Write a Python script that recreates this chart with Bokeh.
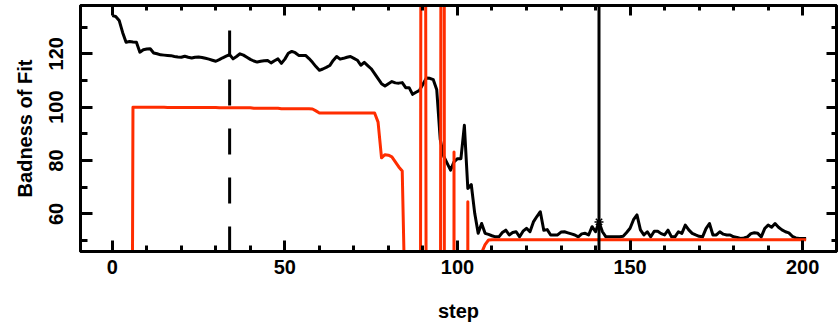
import math
from bokeh.plotting import figure
from bokeh.models import Range1d, LinearAxis, SingleIntervalTicker, Span
from bokeh.embed import file_html
from bokeh.resources import INLINE

# ---------------- data ----------------
steps = list(range(202))

badness = [
    # 0-9
    134.3, 134.0, 132.5, 128.0, 124.3, 124.6, 124.4, 124.3, 120.6, 121.5,
    # 10-19
    121.8, 121.9, 120.3, 120.0, 119.6, 119.5, 119.4, 119.3, 119.0, 118.8,
    # 20-29
    118.7, 119.1, 118.7, 118.4, 118.7, 118.8, 118.6, 118.3, 118.0, 117.6,
    # 30-39
    117.2, 117.8, 118.5, 119.1, 119.7, 118.1, 119.0, 120.0, 119.5, 118.7,
    # 40-49
    117.9, 117.3, 116.9, 117.2, 117.4, 117.5, 116.6, 117.4, 118.1, 116.4,
    # 50-59
    118.0, 120.2, 120.9, 120.4, 119.4, 119.4, 119.4, 118.2, 116.8, 115.2,
    # 60-69
    113.8, 114.3, 114.9, 115.6, 117.5, 119.0, 118.0, 118.3, 118.7, 119.0,
    # 70-79
    118.3, 117.6, 115.7, 116.8, 115.6, 114.4, 112.6, 110.7, 108.8, 107.9,
    # 80-89
    108.8, 109.6, 109.1, 109.0, 109.2, 107.3, 107.3, 104.8, 105.6, 106.3,
    # 90-99
    108.6, 110.9, 110.8, 110.3, 106.5, 88.0, 81.6, 79.0, 76.4, 79.5,
    # 100-109
    80.7, 80.7, 93.2, 69.5, 71.0, 60.2, 52.7, 56.4, 52.7, 52.3,
    # 110-119
    51.8, 51.4, 51.4, 53.0, 53.9, 52.1, 53.0, 53.3, 51.4, 53.5,
    # 120-129
    54.6, 53.3, 57.0, 59.0, 60.8, 53.9, 54.1, 52.1, 52.1, 52.1,
    # 130-139
    53.2, 53.3, 52.9, 52.5, 52.1, 51.4, 52.5, 52.7, 52.1, 55.2,
    # 140-149
    53.3, 57.0, 53.3, 51.4, 51.4, 51.4, 51.4, 51.4, 51.6, 53.0,
    # 150-159
    54.6, 57.8, 59.6, 54.0, 52.1, 53.3, 51.4, 53.5, 53.5, 52.6,
    # 160-169
    52.1, 53.9, 51.4, 51.4, 53.3, 52.7, 55.8, 54.0, 52.7, 52.1,
    # 170-179
    51.6, 51.4, 54.5, 56.4, 52.1, 52.1, 53.3, 52.4, 52.1, 52.1,
    # 180-189
    51.4, 51.2, 50.8, 51.0, 51.4, 52.6, 52.9, 52.7, 51.4, 54.5,
    # 190-199
    55.8, 55.0, 56.4, 55.0, 54.0, 53.3, 52.9, 51.6, 51.0, 50.8,
    # 200-201
    50.8, 50.8,
]

second_series = [
    # 0-9
    -300, -300, -300, -300, -300, -300, 100.0, 100.0, 100.0, 100.0,
    # 10-19
    100.0, 100.0, 100.0, 100.0, 100.0, 100.0, 99.9, 99.9, 99.9, 99.9,
    # 20-29
    99.9, 99.9, 99.9, 99.9, 99.9, 99.9, 99.9, 99.9, 99.9, 99.9,
    # 30-39
    99.9, 99.8, 99.8, 99.8, 99.8, 99.8, 99.8, 99.8, 99.8, 99.8,
    # 40-49
    99.8, 99.6, 99.6, 99.6, 99.6, 99.6, 99.6, 99.6, 99.6, 99.4,
    # 50-59
    99.4, 99.4, 99.4, 99.4, 99.4, 99.4, 99.4, 99.4, 99.3, 98.6,
    # 60-69
    97.8, 97.8, 97.8, 97.8, 97.8, 97.8, 97.8, 97.8, 97.8, 97.8,
    # 70-79
    97.8, 97.8, 97.8, 97.8, 97.8, 97.8, 97.8, 94.4, 81.0, 82.2,
    # 80-89
    82.0, 81.4, 79.5, 77.6, 76.1, 15.0, -300, -300, -300, -300,
    # 90-99
    850, -43, -300, -300, -300, -60, 1000, -3770, -3000, 83.2,
    # 100-109
    -3000, -3000, -3000, 64.5, -3000, -3000, -3000, 45.5, 48.5, 50.2,
    # 110-119
    50.3, 50.3, 50.3, 50.3, 50.3, 50.3, 50.3, 50.3, 50.3, 50.3,
    # 120-129
    50.3, 50.3, 50.3, 50.3, 50.3, 50.3, 50.3, 50.3, 50.3, 50.3,
    # 130-139
    50.3, 50.3, 50.3, 50.3, 50.3, 50.3, 50.3, 50.3, 50.3, 50.3,
    # 140-149
    50.3, 50.3, 50.3, 50.3, 50.3, 50.3, 50.3, 50.3, 50.3, 50.3,
    # 150-159
    50.3, 50.3, 50.3, 50.3, 50.3, 50.3, 50.3, 50.3, 50.3, 50.3,
    # 160-169
    50.3, 50.3, 50.3, 50.3, 50.3, 50.3, 50.3, 50.3, 50.3, 50.3,
    # 170-179
    50.3, 50.3, 50.3, 50.3, 50.3, 50.3, 50.3, 50.3, 50.3, 50.3,
    # 180-189
    50.3, 50.3, 50.3, 50.3, 50.3, 50.3, 50.3, 50.3, 50.3, 50.3,
    # 190-199
    50.3, 50.3, 50.3, 50.3, 50.3, 50.3, 50.3, 50.3, 50.3, 50.3,
    # 200-201
    50.3, 50.3,
]

dashed_step = [34, 34]
dashed_badness = [128.7, 40.0]
best_step = 141
best_badness = 57.0

x_limits = (-9.2, 209.8)
y_limits = (45.9, 138.1)
x_major_interval = 50
y_major_interval = 20

# ---------------- figure ----------------
FONT = "Liberation Sans"
RED = "#ff2d00"

p = figure(
    width=838, height=327,
    x_range=Range1d(*x_limits), y_range=Range1d(*y_limits),
    output_backend="svg", toolbar_location=None,
    min_border_left=80, min_border_right=2, min_border_top=5, min_border_bottom=76,
    x_axis_label="step", y_axis_label="Badness of Fit",
)
p.xgrid.grid_line_color = None
p.ygrid.grid_line_color = None
p.outline_line_color = "black"
p.outline_line_width = 3
p.background_fill_color = "white"
p.border_fill_color = "white"

xt = SingleIntervalTicker(interval=x_major_interval, num_minor_ticks=5)
yt = SingleIntervalTicker(interval=y_major_interval, num_minor_ticks=2)


def style_axis(ax, major_len, minor_len):
    ax.axis_line_color = "black"
    ax.axis_line_width = 3
    ax.major_tick_in = major_len
    ax.major_tick_out = 0
    ax.minor_tick_in = minor_len
    ax.minor_tick_out = 0
    ax.major_tick_line_width = 3
    ax.minor_tick_line_width = 3
    ax.major_tick_line_color = "black"
    ax.minor_tick_line_color = "black"
    ax.major_label_text_font = FONT
    ax.major_label_text_font_style = "bold"
    ax.major_label_text_font_size = "20px"
    ax.major_label_text_color = "black"
    ax.axis_label_text_font = FONT
    ax.axis_label_text_font_style = "bold"
    ax.axis_label_text_font_size = "20px"
    ax.axis_label_text_color = "black"


xa = p.xaxis[0]
xa.ticker = xt
style_axis(xa, 11, 6)
xa.major_label_standoff = 8
xa.axis_label_standoff = 23

ya = p.yaxis[0]
ya.ticker = yt
style_axis(ya, 12, 7)
ya.major_label_orientation = "parallel"
ya.major_label_standoff = 17
ya.axis_label_standoff = 11

top = LinearAxis(ticker=SingleIntervalTicker(interval=x_major_interval, num_minor_ticks=5))
style_axis(top, 10, 5)
top.major_label_text_font_size = "0px"
top.major_label_text_color = None
top.major_label_standoff = 0
p.add_layout(top, "above")

right = LinearAxis(ticker=SingleIntervalTicker(interval=y_major_interval, num_minor_ticks=2))
style_axis(right, 10, 5)
right.major_label_text_font_size = "0px"
right.major_label_text_color = None
right.major_label_standoff = 0
p.add_layout(right, "right")

# ---------------- data marks ----------------
p.line(steps, badness, line_color="black", line_width=3, line_join="round")
p.line(steps, second_series, line_color=RED, line_width=3, line_join="round")

p.line(dashed_step, dashed_badness, line_color="black", line_width=3, line_dash="26 23")
p.add_layout(Span(location=best_step, dimension="height", line_color="black", line_width=3))
p.scatter([best_step], [best_badness], marker="asterisk", size=9, line_color="black", line_width=1.5)

open("out.html", "w").write(file_html(p, INLINE))
